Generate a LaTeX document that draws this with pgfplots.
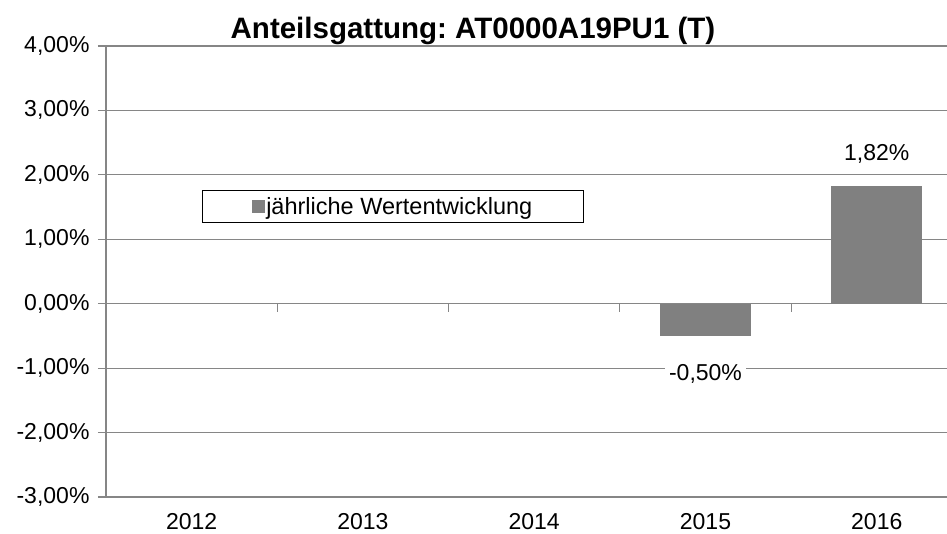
\documentclass[border=0pt]{standalone}
\usepackage{fontspec}
\setmainfont{Liberation Sans}
\usepackage{pgfplots}
\pgfplotsset{compat=1.18}
\definecolor{gridgray}{RGB}{134,134,134}
\definecolor{bargray}{RGB}{128,128,128}
\newcommand{\lblfont}{\fontsize{23}{27}\selectfont}
\frenchspacing
\begin{document}
\begin{tikzpicture}
\begin{axis}[
 name=ax,
 scale only axis,
 width=841pt, height=451pt,
 xmin=-0.5, xmax=4.41,
 ymin=-3, ymax=4,
 ytick={-3,-2,-1,0,1,2,3,4},
 xtick={0,1,2,3,4},
 xticklabels={2012,2013,2014,2015,2016},
 axis x line=bottom, axis y line=left,
 axis line style={gridgray, line width=1.2pt, -},
 ymajorgrids, grid style={gridgray, line width=1.2pt},
 y tick style={gridgray, line width=1.2pt},
 major tick length=8pt,
 tick align=outside,
 x tick style={draw=none},
 /pgf/number format/assume math mode=true,
 ticklabel style={font=\lblfont},
 yticklabel={\pgfmathprintnumber[fixed,fixed zerofill,precision=2,use comma]{\tick}\%},
 yticklabel style={xshift=-5pt},
 xticklabel style={yshift=-5pt},
 ybar, bar width=91pt,
 legend style={at={(0.114,0.681)}, anchor=north west, draw=black, line width=0.8pt,
   fill=white, font=\fontsize{23.5}{27}\selectfont, inner xsep=50pt, inner ysep=6pt,
   nodes={inner sep=1pt}},
 legend cell align=left,
 legend image code/.code={\fill[bargray] (0pt,-6.5pt) rectangle (13pt,6.5pt);},
]
\addplot[fill=bargray, draw=none, bar shift=0pt,
  nodes near coords={\pgfmathprintnumber[fixed,fixed zerofill,precision=2,use comma]{\pgfplotspointmeta}\%},
  every node near coord/.append style={font=\lblfont, anchor=south, fill=white, inner xsep=4pt, inner ysep=2pt, yshift=21pt, text=black}]
  coordinates {(4,1.82)};
\addlegendentry{jährliche Wertentwicklung}
\addplot[fill=bargray, draw=none, bar shift=0pt, forget plot,
  nodes near coords={\pgfmathprintnumber[fixed,fixed zerofill,precision=2,use comma]{\pgfplotspointmeta}\%},
  every node near coord/.append style={font=\lblfont, anchor=north, fill=white, inner xsep=4pt, inner ysep=2pt, yshift=-26pt, text=black}]
  coordinates {(3,-0.5)};
\draw[gridgray, line width=1.2pt] (axis cs:0.5,0) -- ([yshift=-8pt]axis cs:0.5,0);
\draw[gridgray, line width=1.2pt] (axis cs:1.5,0) -- ([yshift=-8pt]axis cs:1.5,0);
\draw[gridgray, line width=1.2pt] (axis cs:2.5,0) -- ([yshift=-8pt]axis cs:2.5,0);
\draw[gridgray, line width=1.2pt] (axis cs:3.5,0) -- ([yshift=-8pt]axis cs:3.5,0);
\end{axis}
\node[font=\fontsize{29.5}{34}\selectfont\bfseries, anchor=base] at ([xshift=367pt,yshift=7pt]ax.north west) {Anteilsgattung: AT0000A19PU1 (T)};
\pgfresetboundingbox
\path[use as bounding box] ([xshift=-106pt,yshift=-37pt]ax.south west) rectangle ([yshift=46pt]ax.north east);
\end{tikzpicture}
\end{document}
